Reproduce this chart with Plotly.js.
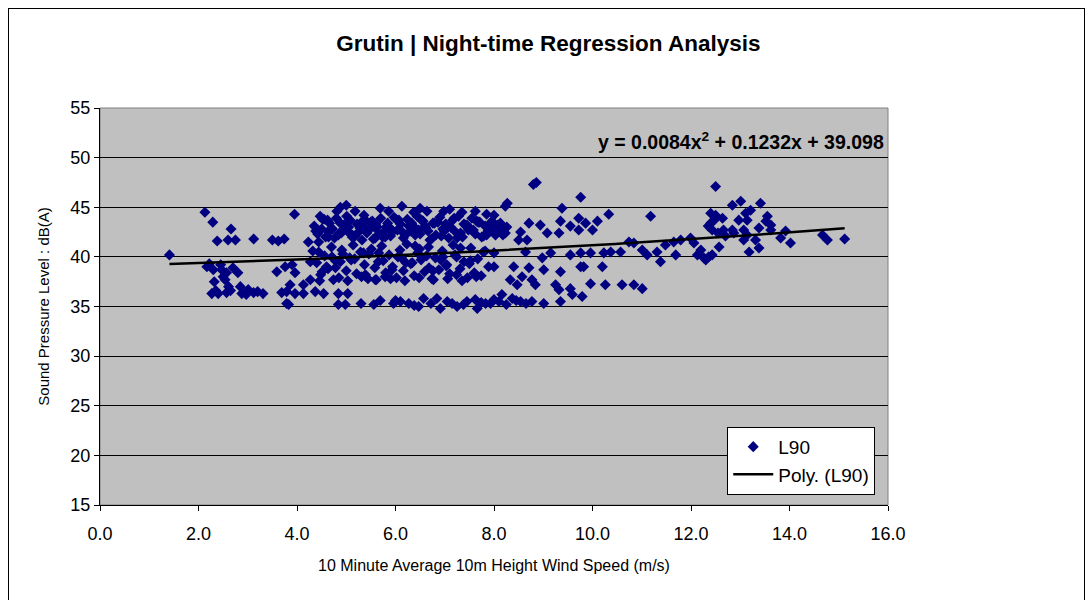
<!DOCTYPE html>
<html><head><meta charset="utf-8">
<script src="https://cdn.plot.ly/plotly-3.0.1.min.js"></script>
<style>
html,body{margin:0;padding:0;background:#fff;overflow:hidden}
#chart{position:absolute;left:0;top:0;width:1088px;height:600px}
#frame{position:absolute;left:8px;top:8px;width:1077px;height:600px;border:1px solid #000;box-sizing:border-box;pointer-events:none;z-index:5}
</style></head>
<body><div id="chart"></div><div id="frame"></div>
<script>
// ---- data ----
const windA = [1.41, 2.13, 2.29, 2.66, 2.38, 2.60, 2.75, 3.12, 3.50, 3.62,
               3.74, 2.17, 2.30, 2.47, 2.57, 2.80, 2.32, 2.54, 2.61, 2.27,
               2.40, 2.57, 2.85, 2.88, 3.01, 2.97, 3.12, 3.31, 3.59, 3.76,
               3.69, 3.79, 2.22, 2.45, 2.70, 2.50, 2.65, 2.35, 3.20, 3.86];
const l90A  = [40.2, 44.5, 43.5, 42.8, 41.6, 41.7, 41.7, 41.8, 41.7, 41.6,
               41.8, 39.0, 38.7, 38.7, 38.4, 38.4, 37.5, 37.7, 37.0, 36.3,
               36.3, 36.4, 37.0, 36.3, 36.7, 36.2, 36.4, 36.3, 38.5, 39.0,
               36.4, 35.3, 39.3, 39.2, 38.9, 38.0, 36.6, 36.6, 36.5, 37.2];

const windB = [3.95, 4.47, 4.88, 4.81, 5.18, 5.69, 5.86, 4.38, 4.64, 4.88,
               5.01, 5.39, 5.59, 4.23, 4.44, 4.64, 4.84, 5.12, 5.32, 5.59,
               5.79, 5.93, 4.44, 4.71, 4.91, 5.35, 4.27, 3.90, 3.96, 4.51,
               4.78, 5.39, 5.59, 5.79, 4.27, 4.13, 3.79, 3.96, 4.13, 4.37,
               4.54, 4.84, 5.03, 4.84, 4.98, 5.30, 5.56, 5.69, 3.83, 5.96];
const l90B  = [44.3, 44.1, 45.0, 44.6, 44.6, 44.9, 44.6, 42.6, 42.5, 43.4,
               44.1, 43.7, 42.9, 41.5, 41.5, 42.0, 42.2, 42.2, 41.7, 41.9,
               42.0, 42.7, 40.5, 40.0, 40.7, 40.4, 39.5, 39.2, 38.4, 38.5,
               38.9, 38.2, 37.7, 38.0, 37.7, 37.2, 36.5, 36.3, 36.3, 36.5,
               36.3, 36.3, 36.3, 35.2, 35.2, 35.3, 35.2, 35.6, 35.2, 35.3];

const windC = [4.35, 4.42, 4.52, 4.58, 4.66, 4.72, 4.80, 4.86, 4.95, 5.02,
               5.08, 5.15, 5.22, 5.28, 5.36, 5.42, 5.50, 5.55, 5.63, 5.70,
               5.76, 5.84, 5.90, 5.97, 6.04, 6.10, 6.16, 6.24, 6.30, 6.36,
               6.44, 6.50, 6.56, 6.62, 6.70, 6.76, 6.82, 6.90, 6.96, 7.02,
               7.08, 7.16, 7.22, 7.28, 7.36, 7.42, 7.48, 7.55, 7.62, 7.68,
               7.75, 7.82, 7.88, 7.96, 8.08, 8.18, 8.26, 4.50, 4.62, 4.76,
               4.90, 5.05, 5.18, 5.33, 5.46, 5.60, 5.74, 5.88, 6.01, 6.14,
               6.27, 6.40, 6.53, 6.66, 6.79, 6.93, 7.05, 7.19, 7.32, 7.45,
               7.58, 7.71, 7.85, 7.99, 4.55, 4.70, 4.98, 5.12, 5.25, 5.40,
               5.53, 5.67, 5.81, 5.94, 6.07, 6.20, 6.33, 6.47, 6.60, 6.73,
               6.86, 6.99, 7.12, 7.25, 7.39, 7.52, 7.65, 7.79, 7.92, 8.15];
const l90C  = [43.1, 42.3, 43.8, 42.0, 43.4, 42.8, 43.9, 42.4, 43.2, 42.6,
               43.7, 42.1, 43.3, 42.9, 44.2, 42.4, 43.5, 41.8, 43.0, 43.9,
               42.5, 43.4, 42.1, 44.0, 42.7, 43.3, 41.9, 43.8, 42.6, 43.1,
               44.1, 42.3, 43.6, 42.9, 41.7, 43.4, 42.2, 44.0, 42.8, 43.3,
               41.9, 43.7, 42.5, 44.1, 42.0, 43.2, 42.7, 43.9, 42.3, 43.5,
               42.0, 43.1, 42.6, 43.6, 43.2, 42.2, 43.0, 42.8, 43.7, 41.9,
               42.4, 43.0, 42.1, 43.6, 42.7, 43.3, 42.0, 42.9, 43.8, 42.5,
               43.1, 42.2, 43.7, 42.6, 43.4, 42.1, 43.0, 43.9, 42.4, 43.2,
               42.7, 43.5, 42.2, 42.6, 43.8, 42.9, 43.3, 42.0, 42.5, 42.9,
               43.6, 42.3, 43.0, 42.5, 43.7, 42.2, 43.4, 42.7, 43.1, 41.8,
               43.5, 42.6, 43.0, 41.9, 43.3, 42.8, 43.6, 42.1, 43.0, 42.5];

const windD = [4.32, 4.40, 4.48, 4.56, 4.63, 4.70, 4.78, 4.85, 4.93, 5.00,
               5.07, 5.14, 5.21, 5.29, 5.37, 5.44, 5.51, 5.58, 5.65, 5.72,
               5.80, 5.87, 5.94, 6.02, 6.09, 6.16, 6.23, 6.31, 6.38, 6.45,
               6.52, 6.59, 6.67, 6.74, 6.81, 6.88, 6.95, 7.03, 7.10, 7.17,
               7.24, 7.31, 7.39, 7.46, 7.53, 7.60, 7.67, 7.74, 7.82, 7.89,
               4.46, 4.60, 4.74, 4.88, 5.03, 5.17, 5.31, 5.46, 5.61, 5.75,
               5.90, 6.05, 6.19, 6.34, 6.48, 6.63, 6.77, 6.92, 7.06, 7.21,
               7.35, 7.50, 7.64, 7.78, 5.10, 5.38, 5.66, 5.93, 6.21, 6.49,
               6.76, 7.04, 7.32, 7.60, 6.12, 6.40, 6.68, 6.96, 7.24, 7.52];
const l90D  = [40.6, 39.4, 38.2, 40.1, 38.8, 41.0, 39.6, 37.9, 40.3, 38.6,
               39.9, 41.2, 38.3, 40.5, 39.2, 37.8, 40.8, 38.9, 39.5, 41.1,
               38.4, 40.2, 39.0, 37.9, 40.7, 38.6, 41.3, 39.3, 38.1, 40.4,
               39.7, 38.5, 41.0, 37.8, 39.9, 38.7, 40.6, 39.1, 38.3, 41.2,
               40.0, 38.8, 39.5, 37.9, 40.9, 38.4, 39.8, 38.1, 40.6, 39.0,
               37.6, 39.0, 37.7, 39.5, 37.6, 39.8, 38.0, 40.3, 37.7, 39.6,
               37.8, 40.0, 37.6, 39.4, 37.9, 40.1, 37.7, 39.7, 37.8, 40.2,
               37.6, 39.3, 38.0, 40.5, 39.7, 38.1, 40.4, 38.7, 39.4, 40.8,
               38.6, 39.2, 40.9, 38.3, 39.9, 41.1, 38.9, 40.0, 38.2, 39.6];

const windE = [6.10, 6.27, 6.47, 6.57, 6.84, 6.91, 7.15, 7.25, 7.45, 7.62,
               7.66, 7.83, 7.93, 8.10, 8.37, 8.16, 8.54, 8.77, 9.01, 9.35,
               6.00, 6.38, 6.72, 7.05, 7.38, 7.74, 8.00, 8.25, 8.45, 8.65];
const l90E  = [35.5, 35.3, 35.0, 35.8, 35.8, 34.8, 35.3, 35.0, 35.5, 35.7,
               34.8, 35.3, 35.3, 35.5, 35.8, 36.2, 35.5, 35.5, 35.3, 35.5,
               35.6, 35.1, 35.3, 35.5, 35.2, 35.4, 35.7, 35.2, 35.6, 35.3];

const windF = [8.80, 8.86, 8.23, 8.27, 8.00, 9.38, 9.76, 7.93, 8.13, 8.23,
               8.03, 8.54, 8.71, 8.94, 9.08, 9.32, 9.35, 9.55, 9.72, 9.72,
               8.50, 8.67, 8.64, 8.00, 8.98, 9.15, 9.55, 9.76, 8.00, 8.40,
               8.71, 9.01, 9.35, 9.76, 8.57, 8.77, 8.33, 8.47, 8.84, 9.25,
               9.32, 9.55, 9.59];
const l90F  = [47.3, 47.5, 45.1, 45.4, 44.2, 44.9, 46.0, 43.4, 43.4, 42.4,
               42.2, 42.5, 43.4, 43.2, 42.4, 42.4, 43.6, 43.1, 43.9, 42.7,
               41.7, 41.7, 40.5, 40.4, 39.9, 40.4, 40.2, 40.4, 39.0, 39.0,
               38.9, 38.7, 38.5, 39.0, 38.0, 37.7, 37.7, 37.2, 37.2, 37.2,
               36.7, 36.8, 36.2];

const windG = [10.33, 11.18, 10.10, 10.00, 9.86, 10.74, 10.84, 10.57, 10.37, 10.23,
               9.96, 11.01, 11.11, 11.31, 11.38, 11.48, 11.69, 11.65, 11.79, 11.99,
               9.82, 10.20, 9.96, 10.26, 10.60, 10.84, 11.01, 9.79];
const l90G  = [44.3, 44.1, 43.6, 42.7, 43.4, 41.5, 41.4, 40.5, 40.5, 40.4,
               40.4, 40.7, 40.2, 40.5, 39.5, 41.2, 40.2, 41.5, 41.7, 41.9,
               39.0, 39.0, 37.3, 37.2, 37.2, 37.2, 36.8, 36.0];

const windH = [12.50, 12.84, 13.01, 13.41, 12.40, 12.50, 13.21, 13.11, 12.64, 12.40,
               12.97, 13.14, 13.55, 13.52, 13.62, 13.38, 13.62, 12.43, 12.66, 12.84,
               13.07, 12.87, 13.14, 13.92, 13.82, 14.02, 14.67, 14.77, 15.12, 12.06,
               12.20, 12.57, 13.07, 13.31, 13.38, 13.18, 12.13, 12.26, 12.36, 12.70,
               12.47, 12.30, 12.43, 12.55, 12.35];
const l90H  = [47.1, 45.2, 45.6, 45.4, 44.4, 44.2, 44.7, 44.4, 43.9, 43.4,
               43.7, 43.7, 44.1, 43.6, 43.2, 42.9, 42.7, 42.7, 42.7, 42.7,
               42.7, 42.4, 42.2, 42.6, 41.9, 41.4, 42.2, 41.7, 41.8, 41.4,
               40.7, 41.0, 41.7, 41.7, 40.9, 40.5, 40.2, 39.9, 40.0, 42.1,
               43.7, 39.7, 40.2, 42.4, 43.1];

const windT = [6.13, 6.37, 6.64, 6.98, 7.35, 7.62, 6.50, 7.10, 5.00, 7.85];
const l90T  = [45.1, 44.5, 44.6, 44.6, 44.5, 44.6, 44.9, 44.8, 45.2, 44.3];

// trend line coefficients as printed on the chart: y = a x^2 + b x + c
const polyCoef = [0.0084, 0.1232, 39.098];

const xTickVals = [0, 2, 4, 6, 8, 10, 12, 14, 16];
const yTickVals = [15, 20, 25, 30, 35, 40, 45, 50, 55];

// ---- build ----
const windSpeed = [].concat(windA, windB, windC, windD, windE, windF, windG, windH, windT);
const l90 = [].concat(l90A, l90B, l90C, l90D, l90E, l90F, l90G, l90H, l90T);

const xMin = Math.min(...windSpeed), xMax = Math.max(...windSpeed);
const trendX = [], trendY = [];
for (let i = 0; i <= 100; i++) {
  const x = xMin + (xMax - xMin) * i / 100;
  trendX.push(x);
  trendY.push(polyCoef[0] * x * x + polyCoef[1] * x + polyCoef[2]);
}

const FONT = 'Arial, "Liberation Sans", sans-serif';

const traces = [
  { x: windSpeed, y: l90, type: 'scatter', mode: 'markers', name: 'L90',
    marker: { symbol: 'diamond', size: 8.5, color: '#000080', line: { width: 0 } },
    hoverinfo: 'x+y' },
  { x: trendX, y: trendY, type: 'scatter', mode: 'lines', name: 'Poly. (L90)',
    line: { color: '#000000', width: 2.5 } }
];

const layout = {
  width: 1088, height: 600,
  paper_bgcolor: '#ffffff', plot_bgcolor: '#c0c0c0',
  margin: { l: 100, r: 200, t: 108, b: 95, pad: 0 },
  font: { family: FONT, color: '#000000', size: 16 },
  title: { text: '<b>Grutin | Night-time Regression Analysis</b>',
           font: { family: FONT, size: 22.5, color: '#000' },
           xref: 'container', x: 0.504, xanchor: 'center',
           yref: 'container', y: 0.928, yanchor: 'middle' },
  showlegend: true,
  legend: { x: 0.796, y: 0.197, xanchor: 'left', yanchor: 'top',
            bgcolor: '#ffffff', bordercolor: '#000000', borderwidth: 1,
            font: { family: FONT, size: 19, color: '#000' }, itemwidth: 40 },
  xaxis: { range: [0, 16], tickvals: xTickVals, tickformat: '.1f',
           ticks: 'outside', ticklen: 5, tickcolor: '#000', tickwidth: 1,
           showline: true, linecolor: '#000', linewidth: 1,
           showgrid: false, zeroline: false, ticklabelstandoff: 7,
           tickfont: { family: FONT, size: 18, color: '#000' },
           title: { text: '10 Minute Average 10m Height Wind Speed (m/s)',
                    font: { family: FONT, size: 16, color: '#000' }, standoff: 17 } },
  yaxis: { range: [15, 55], tickvals: yTickVals,
           ticks: 'outside', ticklen: 5, tickcolor: '#000', tickwidth: 1,
           showline: true, linecolor: '#000', linewidth: 1,
           showgrid: true, gridcolor: '#000000', gridwidth: 1, zeroline: false,
           tickfont: { family: FONT, size: 18, color: '#000' },
           title: { text: 'Sound Pressure Level : dB(A)',
                    font: { family: FONT, size: 15, color: '#000' }, standoff: 17 } },
  shapes: [
    { type: 'rect', xref: 'x domain', yref: 'y domain', x0: 0, x1: 1, y0: 0, y1: 1,
      line: { color: '#808080', width: 1 }, layer: 'below' }
  ],
  annotations: [
    { xref: 'paper', yref: 'paper', x: 0.997, y: 0.917, xanchor: 'right', yanchor: 'middle',
      text: '<b>y = 0.0084x<sup>2</sup> + 0.1232x + 39.098</b>', showarrow: false,
      font: { family: FONT, size: 19.5, color: '#000' } }
  ]
};

Plotly.newPlot('chart', traces, layout, { displayModeBar: false, staticPlot: true });
</script>
</body></html>
